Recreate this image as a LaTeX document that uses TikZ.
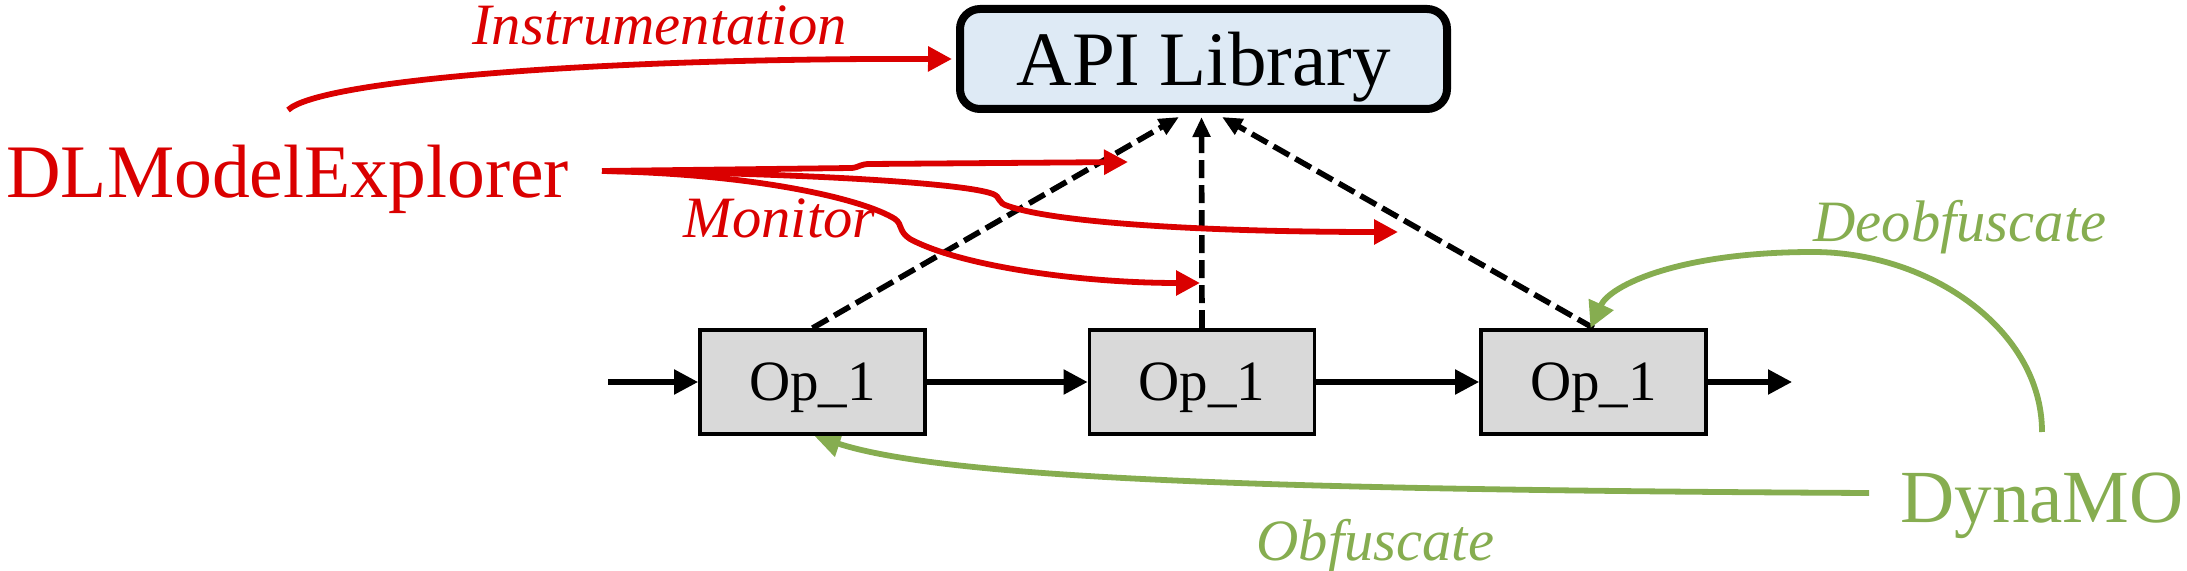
\documentclass[tikz,border=0pt]{standalone}
\usepackage{fontspec}
\setmainfont{Liberation Serif}
\usetikzlibrary{arrows.meta,backgrounds}
\definecolor{myred}{RGB}{218,0,0}
\definecolor{mygreen}{RGB}{134,173,80}
\definecolor{apifill}{RGB}{222,234,245}
\definecolor{opfill}{RGB}{217,217,217}
\begin{document}
\begin{tikzpicture}[x=0.5pt,y=-0.5pt,
  apibox/.style={draw, line width=4pt, rounded corners=10pt, fill=apifill,
    minimum width=243.5pt, minimum height=50pt, inner sep=0pt, text depth=0pt,
    font=\fontsize{38.5pt}{38.5pt}\selectfont},
  opbox/.style={draw, line width=1.9pt, fill=opfill, minimum width=112.5pt,
    minimum height=52pt, inner sep=0pt, text depth=0pt,
    font=\fontsize{28.5pt}{28.5pt}\selectfont},
  bigred/.style={text=myred, inner sep=0pt, anchor=base west,
    font=\fontsize{37.8pt}{37.8pt}\selectfont},
  biggreen/.style={text=mygreen, inner sep=0pt, anchor=base west,
    font=\fontsize{37.5pt}{37.5pt}\selectfont},
  redlabel/.style={text=myred, inner sep=0pt, anchor=base west,
    font=\fontsize{29.3pt}{29.3pt}\selectfont\itshape},
  greenlabel/.style={text=mygreen, inner sep=0pt, anchor=base west,
    font=\fontsize{29.3pt}{29.3pt}\selectfont\itshape},
  redarrow/.style={draw=myred, line width=2.9pt, -{Triangle[length=12pt,width=12pt]}},
  greenarrow/.style={draw=mygreen, line width=2.9pt, -{Triangle[length=13pt,width=13pt]}},
  flow/.style={draw=black, line width=2.6pt, -{Triangle[length=12pt,width=12pt]}},
  calls/.style={draw=black, line width=2.8pt, dash pattern=on 9pt off 3.5pt,
    -{Triangle[length=10pt,width=8.5pt]}},
]
\useasboundingbox (0,0) rectangle (2187,571);

% nodes
\node[apibox] (api) at (1203.5,59) {API Library};
\node[opbox] (op1) at (812.5,382) {Op\_1};
\node[opbox] (op2) at (1202,382) {Op\_1};
\node[opbox] (op3) at (1593.5,382) {Op\_1};
\node[bigred] (dlm) at (6,198) {DLModelExplorer};
\node[biggreen] (dyn) at (1900,522) {DynaMO};
\node[redlabel] (instr) at (472,45) {Instrumentation};
\node[redlabel] (mon) at (683,238) {Monitor};
\node[greenlabel] (deob) at (1813,242) {Deobfuscate};
\node[greenlabel] (obf) at (1256,560) {Obfuscate};

% free ends
\coordinate (in) at (608,382);
\coordinate (out) at (1792,382);
\coordinate (i0) at (288,110);
\coordinate (m0) at (602,171);
\coordinate (t1) at (1128,162);
\coordinate (t2) at (1398,232);
\coordinate (t3) at (1200,283);
\coordinate (d0) at (2042,432);
\coordinate (g0) at (1869,493);

\begin{pgfonlayer}{background}
% data flow
\draw[flow] (in) -- (op1.west);
\draw[flow] (op1.east) -- (op2.west);
\draw[flow] (op2.east) -- (op3.west);
\draw[flow] (op3.east) -- (out);

% calls to API library
\draw[calls] (op1.north) -- ([xshift=-12.25pt,yshift=-2pt]api.south);
\draw[calls] (op2.north) -- ([xshift=-1pt,yshift=-2pt]api.south);
\draw[calls] (op3.north) -- ([xshift=9.25pt,yshift=-2pt]api.south);

% instrumentation
\draw[redarrow] (i0) .. controls (320,80) and (600,58) .. ([xshift=-2pt]api.west);

% monitor
\draw[redarrow] (m0) -- (852,168) .. controls (860,167) and (860,164) .. (870,164) -- (t1);
\draw[redarrow] (m0) .. controls (800,173) and (965,183) .. (993,194)
  .. controls (1001,197) and (997,203) .. (1008,206)
  .. controls (1060,224) and (1220,232) .. (t2);
\draw[redarrow] (m0) .. controls (760,174) and (865,200) .. (895,219)
  .. controls (903,225) and (898,231) .. (910,239)
  .. controls (960,266) and (1080,283) .. (t3);

% deobfuscate / obfuscate
\draw[greenarrow] (d0) .. controls (2042,330) and (1930,252) .. (1813,252)
  .. controls (1680,252) and (1610,285) .. ([xshift=-1.5pt]op3.north);
\draw[greenarrow] (g0) .. controls (1300,490) and (950,480) .. ([xshift=1pt]op1.south);
\end{pgfonlayer}
\end{tikzpicture}
\end{document}
